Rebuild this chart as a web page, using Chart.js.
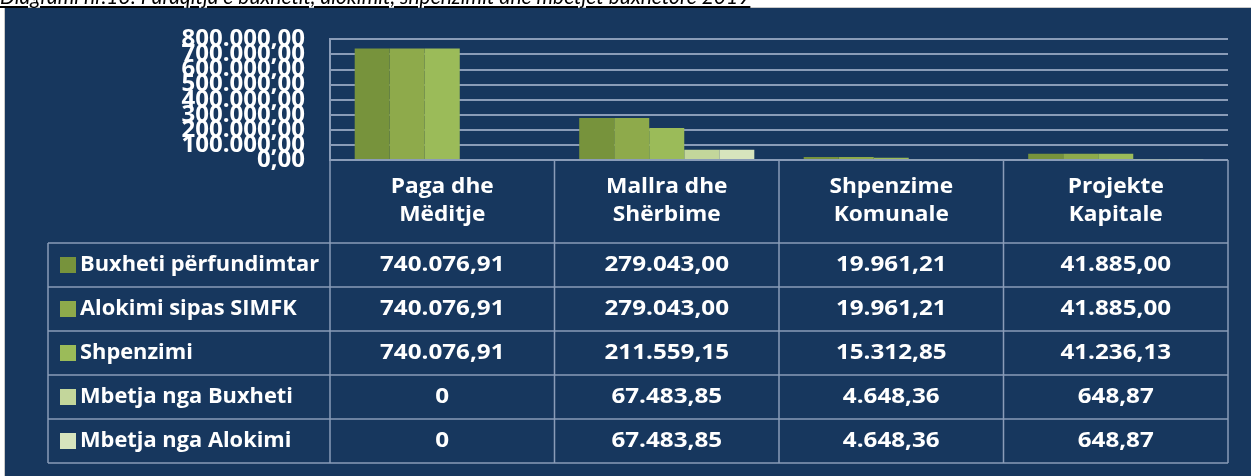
<!DOCTYPE html>
<html lang="sq">
<head>
    <meta charset="UTF-8">
    <title>Buxheti, alokimi, shpenzimi dhe mbetja</title>
    <script src="https://cdn.jsdelivr.net/npm/chart.js"></script>
    <style>
        html, body { margin: 0; padding: 0; background: #fff; overflow: hidden; }
        #wrap { position: relative; width: 1251px; height: 476px; }
        #caption {
            position: absolute; left: 0; top: -15px; z-index: 2;
            font: italic 21px Lato, sans-serif; line-height: 21px;
            text-decoration: underline; white-space: nowrap; color: #000;
        }
    </style>
</head>
<body>
<div id="wrap">
    <div id="caption">Diagrami nr.13: Paraqitja e buxhetit, alokimit, shpenzimit dhe mbetjet buxhetore 2019</div>
    <canvas id="myChart" width="1251" height="476"></canvas>
</div>

<script>
    // categories (two lines each in the table header)
    const categories = [
        ['Paga dhe', 'Mëditje'],
        ['Mallra dhe', 'Shërbime'],
        ['Shpenzime', 'Komunale'],
        ['Projekte', 'Kapitale']
    ];

    // series values
    const buxhetiPerfundimtar = [740076.91, 279043.00, 19961.21, 41885.00];
    const alokimiSipasSimfk   = [740076.91, 279043.00, 19961.21, 41885.00];
    const shpenzimi           = [740076.91, 211559.15, 15312.85, 41236.13];
    const mbetjaNgaBuxheti    = [0, 67483.85, 4648.36, 648.87];
    const mbetjaNgaAlokimi    = [0, 67483.85, 4648.36, 648.87];

    const seriesNames = ['Buxheti përfundimtar', 'Alokimi sipas SIMFK', 'Shpenzimi',
                         'Mbetja nga Buxheti', 'Mbetja nga Alokimi'];
    const seriesColors = ['#77933c', '#8eaa4b', '#9bbb59', '#c3d69b', '#d7e4bd'];

    // y axis ticks
    const yMin = 0, yMax = 800000, yStep = 100000;

    const navy = '#17375e';
    const lineColor = '#8a9cb8';
    const font = '"Open Sans"';

    // 1234567.5 -> "1.234.567,50"
    function fmt(v, zeroPlain) {
        if (v === 0 && zeroPlain) return '0';
        const parts = v.toFixed(2).split('.');
        parts[0] = parts[0].replace(/\B(?=(\d{3})+(?!\d))/g, '.');
        return parts[0] + ',' + parts[1];
    }

    const allSeries = [buxhetiPerfundimtar, alokimiSipasSimfk, shpenzimi, mbetjaNgaBuxheti, mbetjaNgaAlokimi];

    const panelPlugin = {
        id: 'panel',
        beforeDraw(chart) {
            const ctx = chart.ctx;
            ctx.save();
            ctx.fillStyle = '#fff';
            ctx.fillRect(0, 0, chart.width, chart.height);
            ctx.fillStyle = '#c9c9c9';
            ctx.fillRect(4, 7, chart.width - 4, chart.height - 7);
            ctx.fillStyle = navy;
            ctx.fillRect(5, 8, chart.width - 5, chart.height - 8);
            ctx.restore();
        }
    };

    // text a bit wider than the font, like the original
    function wideText(ctx, t, x, y, sx) {
        ctx.save();
        ctx.translate(x, y);
        ctx.scale(sx, 1);
        ctx.fillText(t, 0, 0);
        ctx.restore();
    }

    // data table under the plot, columns follow the x scale
    const tablePlugin = {
        id: 'dataTable',
        afterDraw(chart) {
            const ctx = chart.ctx;
            const area = chart.chartArea;
            const xs = chart.scales.x;
            const n = categories.length;
            const colW = (area.right - area.left) / n;
            const headTop = area.bottom;
            const headBottom = 243;
            const rowH = 44;
            const tableLeft = 48;
            const tableBottom = headBottom + rowH * allSeries.length;

            ctx.save();
            ctx.strokeStyle = lineColor;
            ctx.lineWidth = 1.5;
            const line = (x1, y1, x2, y2) => {
                ctx.beginPath(); ctx.moveTo(x1, y1); ctx.lineTo(x2, y2); ctx.stroke();
            };
            line(area.left, headTop, area.right, headTop);
            for (let i = 0; i <= n; i++) {
                const xx = area.left + i * colW;
                line(xx, headTop, xx, tableBottom);
            }
            line(tableLeft, headBottom, tableLeft, tableBottom);
            for (let r = 0; r <= allSeries.length; r++) {
                const yy = headBottom + r * rowH;
                line(tableLeft, yy, area.right, yy);
            }

            ctx.fillStyle = '#fff';
            ctx.textBaseline = 'middle';
            ctx.textAlign = 'center';
            ctx.font = 'bold 21px ' + font;
            const headMid = (headTop + headBottom) / 2;
            categories.forEach((lines, i) => {
                const cx = xs.getPixelForValue(i);
                wideText(ctx, lines[0], cx, headMid - 14, 1.08);
                wideText(ctx, lines[1], cx, headMid + 14, 1.08);
            });

            allSeries.forEach((vals, r) => {
                const cy = headBottom + r * rowH + rowH / 2;
                ctx.fillStyle = seriesColors[r];
                ctx.fillRect(60, cy - 8, 16, 16);
                ctx.fillStyle = '#fff';
                ctx.textAlign = 'left';
                ctx.font = 'bold 21px ' + font;
                wideText(ctx, seriesNames[r], 80, cy, 1.04);
                ctx.textAlign = 'center';
                ctx.font = 'bold 22px ' + font;
                vals.forEach((v, i) => {
                    wideText(ctx, fmt(v, true), xs.getPixelForValue(i), cy, 1.1);
                });
            });
            ctx.restore();
        }
    };

    const ctx = document.getElementById('myChart').getContext('2d');
    new Chart(ctx, {
        type: 'bar',
        data: {
            labels: categories.map(c => c.join(' ')),
            datasets: allSeries.map((vals, i) => ({
                label: seriesNames[i],
                data: vals,
                backgroundColor: seriesColors[i],
                borderWidth: 0,
                categoryPercentage: 0.78,
                barPercentage: 1.0
            }))
        },
        options: {
            responsive: false,
            animation: false,
            layout: { padding: { top: 37, right: 23, bottom: 316, left: 0 } },
            plugins: {
                legend: { display: false },
                tooltip: { enabled: false }
            },
            scales: {
                x: { display: false },
                y: {
                    min: yMin,
                    max: yMax,
                    afterFit: s => { s.width = 330; },
                    ticks: {
                        stepSize: yStep,
                        autoSkip: false,
                        padding: 25,
                        color: '#fff',
                        font: { family: font, size: 24, weight: 'bold' },
                        callback: v => fmt(v, false)
                    },
                    grid: { color: lineColor, lineWidth: 2, drawTicks: false },
                    border: { color: lineColor, width: 2 }
                }
            }
        },
        plugins: [panelPlugin, tablePlugin]
    });
</script>
</body>
</html>
